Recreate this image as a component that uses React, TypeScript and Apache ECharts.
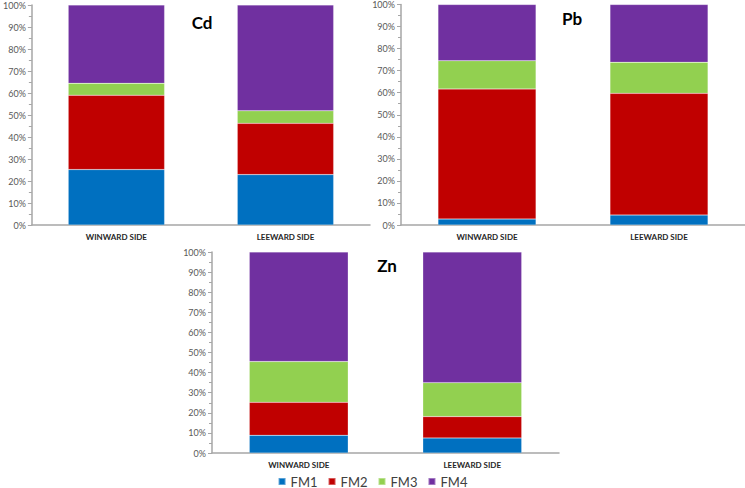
import React, { useEffect, useRef } from "react";
import * as echarts from "echarts";

const categories = ["WINWARD SIDE", "LEEWARD SIDE"];
const fractions = ["FM1", "FM2", "FM3", "FM4"];
const colors = ["#0070C0", "#C00000", "#92D050", "#7030A0"];
const metals = ["Cd", "Pb", "Zn"];
const yTicks = [0, 10, 20, 30, 40, 50, 60, 70, 80, 90, 100];

// values per fraction [winward, leeward]
const cdFM1 = [25.2, 22.9];
const cdFM2 = [33.8, 23.3];
const cdFM3 = [5.4, 5.7];
const cdFM4 = [35.6, 48.1];

const pbFM1 = [2.7, 4.5];
const pbFM2 = [59.0, 55.2];
const pbFM3 = [12.8, 14.1];
const pbFM4 = [25.5, 26.2];

const znFM1 = [8.8, 7.5];
const znFM2 = [16.4, 10.6];
const znFM3 = [20.3, 16.9];
const znFM4 = [54.5, 65.0];

const metalData = [
  [cdFM1, cdFM2, cdFM3, cdFM4],
  [pbFM1, pbFM2, pbFM3, pbFM4],
  [znFM1, znFM2, znFM3, znFM4],
];

const FONT = "Lato, 'Open Sans', sans-serif";

export default function App() {
  const ref = useRef<HTMLDivElement>(null);
  useEffect(() => {
    if (!ref.current) return;
    const chart = echarts.init(ref.current, null, { renderer: "svg" });
    const grids = [
      { left: 30, top: 5, width: 340, height: 220 },
      { left: 401, top: 4, width: 344, height: 221 },
      { left: 212, top: 252, width: 347, height: 201 },
    ];
    const titlePos = [
      { x: 202, y: 22 },
      { x: 572, y: 18 },
      { x: 387, y: 265 },
    ];
    const xAxis = grids.map((_, i) => ({
      type: "category",
      gridIndex: i,
      data: categories,
      axisLine: { lineStyle: { color: "#A6A6A6", width: 1.5 } },
      axisTick: { show: false },
      axisLabel: {
        fontFamily: FONT,
        fontSize: 8,
        fontWeight: "bold",
        color: "#262626",
        margin: 8,
      },
    }));
    const yAxis = grids.map((_, i) => ({
      type: "value",
      gridIndex: i,
      min: yTicks[0],
      max: yTicks[yTicks.length - 1],
      interval: 10,
      axisLine: { show: true, lineStyle: { color: "#A6A6A6", width: 1.5 } },
      axisTick: { show: true, length: 4, lineStyle: { color: "#A6A6A6" } },
      minorTick: { show: true, splitNumber: 2, length: 3, lineStyle: { color: "#A6A6A6" } },
      splitLine: { show: false },
      axisLabel: {
        fontFamily: FONT,
        fontSize: 9,
        color: "#595959",
        margin: 6,
        formatter: "{value}%",
      },
    }));
    const series: any[] = [];
    metalData.forEach((arrs, gi) => {
      arrs.forEach((vals, fi) => {
        series.push({
          type: "bar",
          name: fractions[fi],
          xAxisIndex: gi,
          yAxisIndex: gi,
          stack: "s" + gi,
          data: vals,
          barWidth: "57%",
          itemStyle: { color: colors[fi], borderColor: "rgba(255,255,255,0.35)", borderWidth: 0.5 },
        });
      });
    });
    chart.setOption({
      animation: false,
      color: colors,
      grid: grids,
      xAxis,
      yAxis,
      series,
      legend: {
        data: fractions,
        top: 475,
        left: "center",
        icon: "rect",
        itemWidth: 7,
        itemHeight: 7,
        itemGap: 10,
        padding: 0,
        textStyle: { fontFamily: FONT, fontSize: 13, color: "#404040" },
      },
      graphic: metals.map((m, i) => ({
        type: "text",
        x: titlePos[i].x,
        y: titlePos[i].y,
        style: {
          text: m,
          fontFamily: FONT,
          fontSize: 17,
          fontWeight: "bold",
          fill: "#000",
          align: "center",
          verticalAlign: "middle",
        },
      })),
    });
    return () => chart.dispose();
  }, []);
  return (
    <div
      ref={ref}
      style={{ position: "absolute", left: 0, top: 0, width: 745, height: 488, background: "#fff" }}
    />
  );
}
